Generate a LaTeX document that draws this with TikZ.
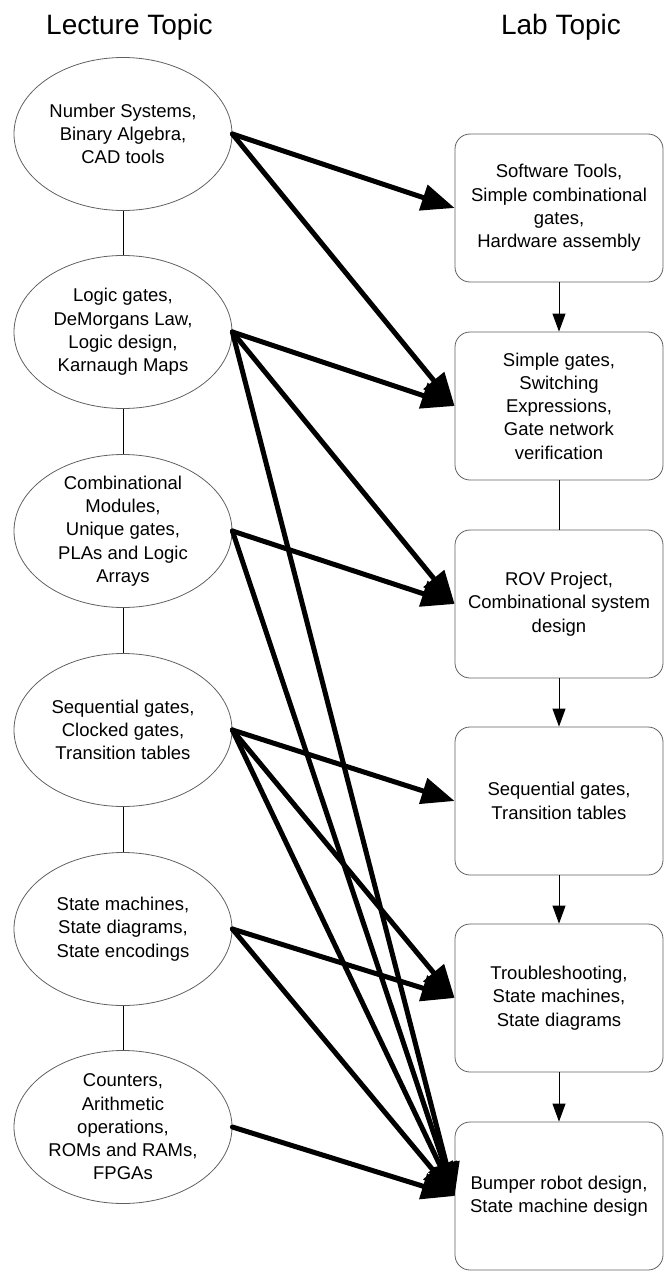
\documentclass[tikz,border=0pt]{standalone}
\usepackage{fontspec}
\setmainfont{Liberation Sans}
\usetikzlibrary{arrows.meta,shapes.geometric}
\definecolor{outline}{RGB}{96,96,96}
\begin{document}
\begin{tikzpicture}[x=1pt,y=-1pt,
  topic/.style={ellipse, draw=outline, line width=0.8pt,
    minimum width=218pt, minimum height=153pt,
    inner xsep=0pt, inner ysep=-3pt, align=center,
    font=\fontsize{18.5}{23.3}\selectfont},
  lab/.style={rectangle, rounded corners=15pt, draw=outline, line width=0.8pt,
    minimum width=208pt, minimum height=148pt, inner sep=0pt, align=center,
    font=\fontsize{18.5}{23.3}\selectfont},
  heading/.style={anchor=base, inner sep=0pt, font=\fontsize{28}{32}\selectfont},
  chain/.style={line width=1pt},
  seqarrow/.style={line width=1pt, -{Triangle[length=18pt,width=13pt]}},
  maps/.style={line width=5pt, line cap=round, -{Triangle[length=33pt,width=26pt]}}
]
\useasboundingbox (0,0) rectangle (665,1271);

% column headings
\node[heading] (lecture) at (129.5,35) {Lecture Topic};
\node[heading] (labhead) at (561,35) {Lab Topic};

% lecture topics
\node[topic] (e1) at (123,134) {Number Systems,\\Binary Algebra,\\CAD tools};
\node[topic] (e2) at (123,332) {Logic gates,\\DeMorgans Law,\\Logic design,\\Karnaugh Maps};
\node[topic] (e3) at (123,531) {Combinational\\Modules,\\Unique gates,\\PLAs and Logic\\Arrays};
\node[topic] (e4) at (123,730) {Sequential gates,\\Clocked gates,\\Transition tables};
\node[topic] (e5) at (123,929) {State machines,\\State diagrams,\\State encodings};
\node[topic] (e6) at (123,1127) {Counters,\\Arithmetic\\operations,\\ROMs and RAMs,\\FPGAs};

% lab topics
\node[lab] (b1) at (559,208) {Software Tools,\\Simple combinational\\gates,\\Hardware assembly};
\node[lab] (b2) at (559,406) {Simple gates,\\Switching\\Expressions,\\Gate network\\verification};
\node[lab] (b3) at (559,604) {ROV Project,\\Combinational system\\design};
\node[lab] (b4) at (559,801) {Sequential gates,\\Transition tables};
\node[lab] (b5) at (559,998) {Troubleshooting,\\State machines,\\State diagrams};
\node[lab] (b6) at (559,1196) {Bumper robot design,\\State machine design};

% lecture sequence
\draw[chain] (e1.south) -- (e2.north);
\draw[chain] (e2.south) -- (e3.north);
\draw[chain] (e3.south) -- (e4.north);
\draw[chain] (e4.south) -- (e5.north);
\draw[chain] (e5.south) -- (e6.north);

% lab sequence
\draw[seqarrow] (b1.south) -- (b2.north);
\draw[chain] (b2.south) -- (b3.north);
\draw[seqarrow] (b3.south) -- (b4.north);
\draw[seqarrow] (b4.south) -- (b5.north);
\draw[seqarrow] (b5.south) -- (b6.north);

% lecture-to-lab mapping
\draw[maps] (e1.east) -- (b1.west);
\draw[maps] (e1.east) -- (b2.west);
\draw[maps] (e2.east) -- (b2.west);
\draw[maps] (e2.east) -- (b3.west);
\draw[maps] (e2.east) -- (b6.west);
\draw[maps] (e3.east) -- (b3.west);
\draw[maps] (e3.east) -- (b6.west);
\draw[maps] (e4.east) -- (b4.west);
\draw[maps] (e4.east) -- (b5.west);
\draw[maps] (e4.east) -- (b6.west);
\draw[maps] (e5.east) -- (b5.west);
\draw[maps] (e5.east) -- (b6.west);
\draw[maps] (e6.east) -- (b6.west);
\end{tikzpicture}
\end{document}
